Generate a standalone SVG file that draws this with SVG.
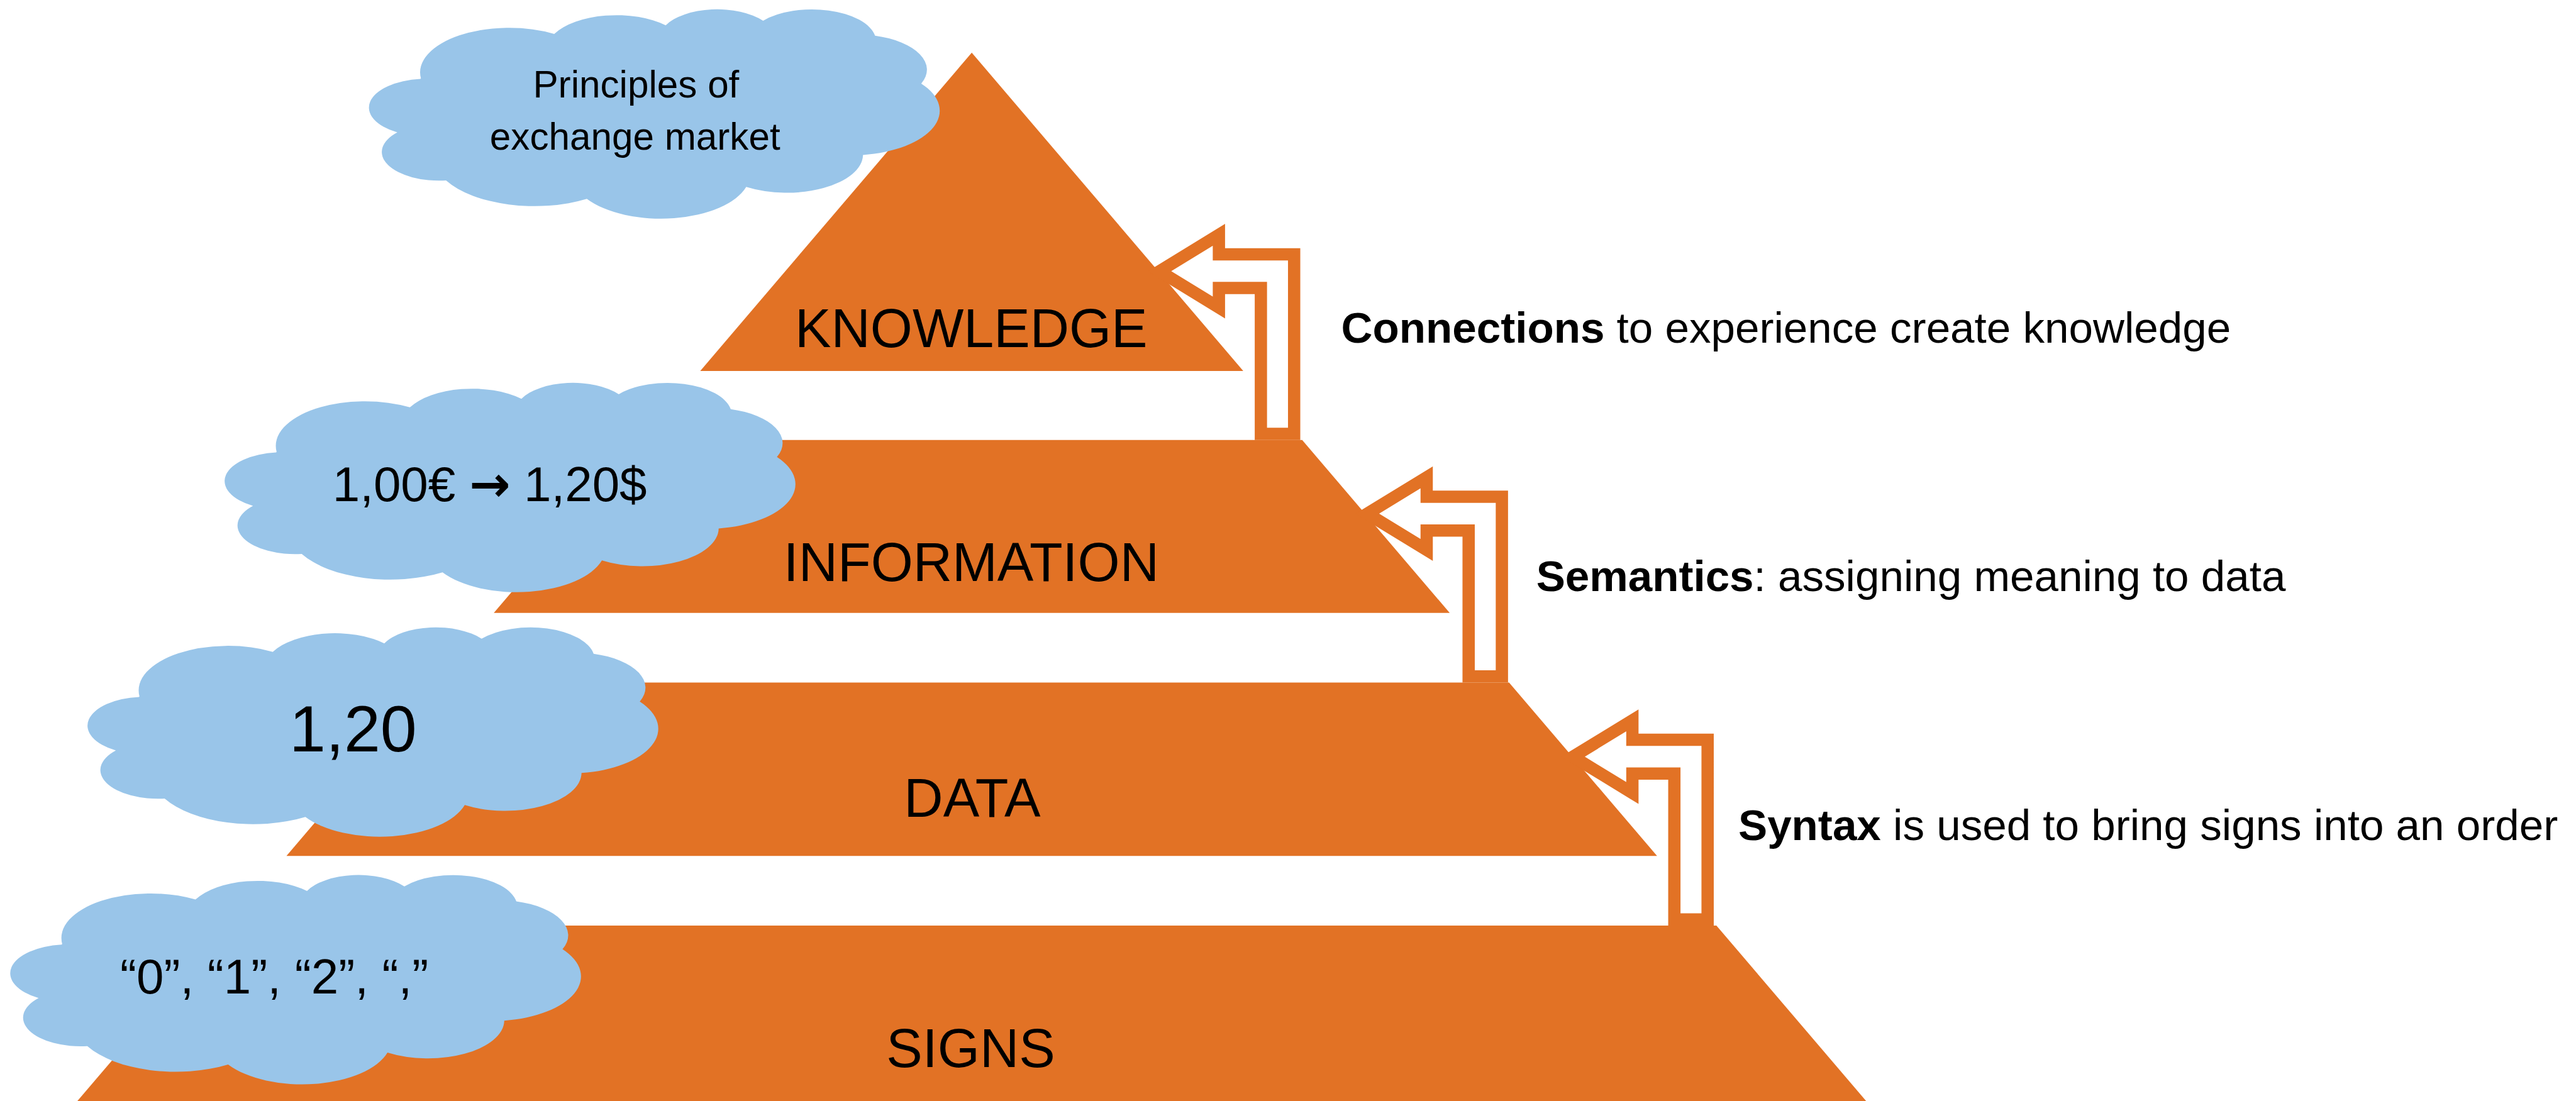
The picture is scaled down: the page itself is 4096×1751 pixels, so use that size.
<svg xmlns="http://www.w3.org/2000/svg" width="4096" height="1751" viewBox="0 0 4096 1751">
  <defs>
    <style>
      .level { fill: #E27225; }
      .cloud { fill: #99C5E9; }
      .arrow { fill: #FFFFFF; stroke: #E27225; stroke-width: 24; stroke-linejoin: miter; stroke-miterlimit: 10; }
      text { font-family: "Liberation Sans", Arial, sans-serif; fill: #000000; }
      .lvl { font-size: 106px; text-anchor: middle; }
      .note { font-size: 85px; }
      .ctext { text-anchor: middle; }
      .b { font-weight: bold; }
    </style>
    <!-- cloud outline in a 432 x 432 box, stretched to 1114 x 409 -->
    <path id="cloud-shape" transform="scale(2.5787,0.94676)"
          d="M 39 143.7
             A 67.53 91.9 0 0 1 140.02 52.0
             A 53.33 72.67 0 0 1 224.52 34.26
             A 43.65 59.45 0 0 1 298.29 24.76
             A 48.57 65.95 0 0 1 383.15 55.71
             A 53.33 72.73 0 0 1 418.14 154.54
             A 67.75 92.2 0 0 1 374.0 301.98
             A 57.85 78.67 0 0 1 285.51 368.07
             A 67.52 92.15 0 0 1 164.74 392.56
             A 77.2 105.43 0 0 1 58.03 354.63
             A 43.6 59.18 0 0 1 21.11 255.43
             A 43.45 59.45 0 0 1 38.62 144.99 Z"/>
    <!-- bent block arrow, anchored at its lower right corner -->
    <path id="bent-arrow"
          d="M -263 -318 L -147 -389 L -147 -351 L 0 -351 L 0 0 L -65 0 L -65 -285 L -147 -285 L -147 -247 Z"/>
  </defs>

  <g transform="scale(0.813667)">
    <!-- pyramid levels -->
    <g id="level-knowledge">
      <polygon class="level" points="1899,103 2429.6,725 1368.4,725"/>
      <text class="lvl" x="1898" y="679">KNOWLEDGE</text>
    </g>
    <g id="level-information">
      <polygon class="level" points="1253.3,860 2544.7,860 2833,1198 965,1198"/>
      <text class="lvl" x="1898" y="1135">INFORMATION</text>
    </g>
    <g id="level-data">
      <polygon class="level" points="849,1334 2949,1334 3238.2,1673 559.8,1673"/>
      <text class="lvl" x="1900" y="1597">DATA</text>
    </g>
    <g id="level-signs">
      <polygon class="level" points="443.8,1809 3354.2,1809 3653.6,2160 144.4,2160"/>
      <text class="lvl" x="1897" y="2086">SIGNS</text>
    </g>

    <!-- transitions between levels -->
    <g id="connectors">
      <use class="arrow" href="#bent-arrow" transform="translate(2529,848)"/>
      <use class="arrow" href="#bent-arrow" transform="translate(2935,1322)"/>
      <use class="arrow" href="#bent-arrow" transform="translate(3337,1797)"/>
    </g>

    <!-- examples for each level -->
    <g id="cloud-principles">
      <use class="cloud" href="#cloud-shape" transform="translate(722,17)"/>
      <text class="ctext" font-size="74" x="1243" y="190">Principles of</text>
      <text class="ctext" font-size="74" x="1241" y="293">exchange market</text>
    </g>
    <g id="cloud-rate">
      <use class="cloud" href="#cloud-shape" transform="translate(440,747)"/>
      <text class="ctext" font-size="96" x="957" y="979">1,00€ <tspan font-family="'DejaVu Sans', sans-serif" font-weight="bold">→</tspan> 1,20$</text>
    </g>
    <g id="cloud-number">
      <use class="cloud" href="#cloud-shape" transform="translate(172,1225)"/>
      <text class="ctext" font-size="128" x="690" y="1469">1,20</text>
    </g>
    <g id="cloud-signs">
      <use class="cloud" href="#cloud-shape" transform="translate(21,1709)"/>
      <text class="ctext" font-size="96" x="536" y="1942">“0”, “1”, “2”, “,”</text>
    </g>

    <!-- descriptions of the transitions -->
    <g id="note-connections">
      <text class="note" x="2621" y="670"><tspan class="b">Connections</tspan> to experience create knowledge</text>
    </g>
    <g id="note-semantics">
      <text class="note" x="3002" y="1155"><tspan class="b">Semantics</tspan>: assigning meaning to data</text>
    </g>
    <g id="note-syntax">
      <text class="note" x="3397" y="1642"><tspan class="b">Syntax</tspan> is used to bring signs into an order</text>
    </g>
  </g>
</svg>
